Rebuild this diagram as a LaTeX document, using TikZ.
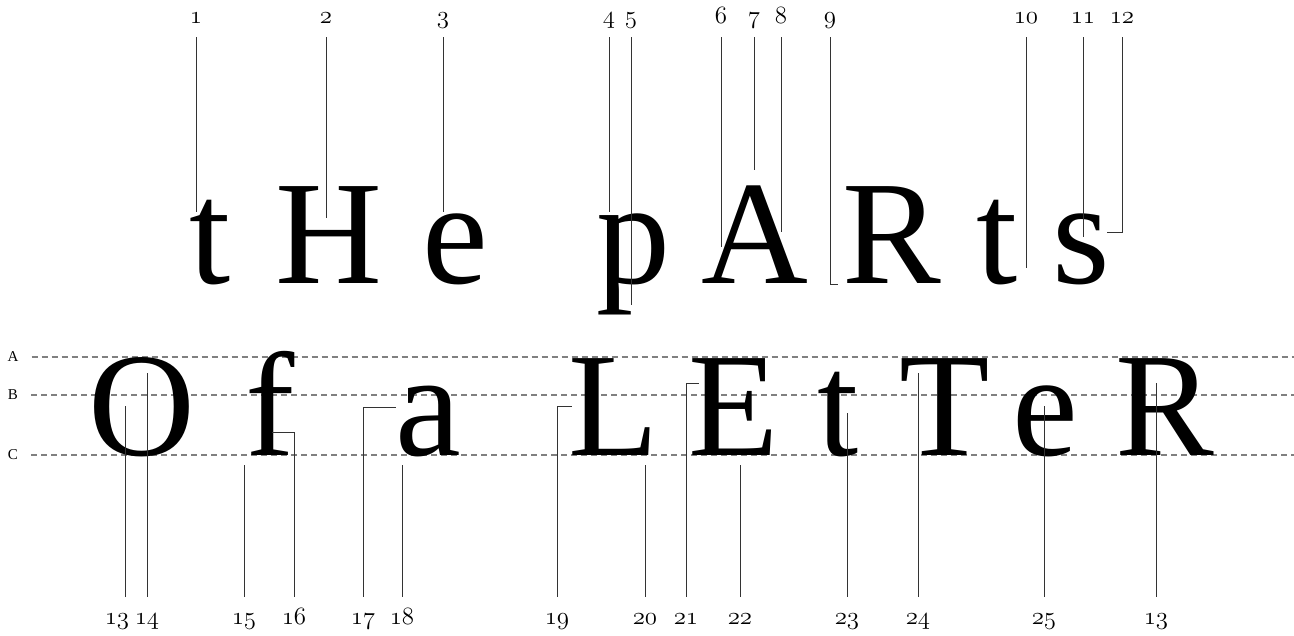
\documentclass[tikz,border=0pt]{standalone}
\usepackage{fontspec}
\setmainfont{Liberation Serif}
\newcommand\osf[1]{{\usefont{OML}{cmm}{m}{it}#1}}
\usetikzlibrary{calc}

\begin{document}
\begin{tikzpicture}[x=1pt, y=-1pt,
  glyph/.style={anchor=base, inner sep=0pt, font=\fontsize{148}{148}\selectfont},
  num/.style={anchor=base, inner sep=0pt, text height=10pt, text depth=5pt,
    font=\fontsize{24.88}{25}\selectfont},
  tag/.style={inner sep=0pt, font=\fontsize{15}{15}\selectfont},
  guide/.style={draw=black!50, line width=1.2pt, dash pattern=on 6pt off 4pt, shorten <=13pt},
  lead/.style={draw=black!80, line width=0.9pt},
  toplead/.style={lead, shorten <=9pt},
  botlead/.style={lead, shorten <=17pt}]
  \useasboundingbox (0,0) rectangle (1294,635);

  % guide lines
  \node[tag] (tagA) at (13,357) {A};
  \node[tag] (tagB) at (13,395) {B};
  \node[tag] (tagC) at (13,455) {C};
  \coordinate (endA) at (1294,357);
  \coordinate (endB) at (1294,395);
  \coordinate (endC) at (1294,455);
  \draw[guide] (tagA.east) -- (endA);
  \draw[guide] (tagB.east) -- (endB);
  \draw[guide] (tagC.east) -- (endC);

  % first line of letters
  \node[glyph] (g1) at (210,283) {t};
  \node[glyph] (g2) at (329,283) {H};
  \node[glyph] (g3) at (455,283) {e};
  \node[glyph] (g4) at (633,283) {p};
  \node[glyph] (g5) at (755,283) {A};
  \node[glyph] (g6) at (892,283) {R};
  \node[glyph] (g7) at (997,283) {t};
  \node[glyph] (g8) at (1081,283) {s};

  % second line of letters
  \node[glyph] (h1) at (142,455) {O};
  \node[glyph] (h2) at (270,455) {f};
  \node[glyph] (h3) at (428,455) {a};
  \node[glyph] (h4) at (614,455) {L};
  \node[glyph] (h5) at (734,455) {E};
  \node[glyph] (h6) at (838,455) {t};
  \node[glyph] (h7) at (945,455) {T};
  \node[glyph] (h8) at (1045,455) {e};
  \node[glyph] (h9) at (1165,455) {R};

  % numbers above
  \foreach \n/\x/\y/\txt in {1/196/212/1, 2/326/218/2, 3/443/212/3, 4/609/212/4,
      5/631/305/5, 6/721/247/6, 7/754/170/7, 8/781/232/8, 10/1026/268/10,
      11/1083/237/11} {
    \node[num] (t\n) at (\x,23) {\osf{\txt}};
    \coordinate (e\n) at (\x,\y);
    \draw[toplead] (t\n.south) -- (e\n);
  }
  \node[num] (t9) at (830,23) {\osf{9}};
  \coordinate (e9) at (838,284);
  \draw[toplead] (t9.south) |- (e9);
  \node[num] (t12) at (1122,23) {\osf{12}};
  \coordinate (e12) at (1107,232);
  \draw[toplead] (t12.south) |- (e12);

  % numbers below
  \foreach \n/\x/\y/\txt in {14/147/373/14,
      15/244/465/15, 18/402/465/18, 20/645/465/20,
      22/740/465/22, 23/847/413/23, 24/918/373/24,
      25/1044/406/25, 26/1156/383/13} {
    \node[num] (b\n) at (\x,624) {\osf{\txt}};
    \coordinate (f\n) at (\x,\y);
    \draw[botlead] (b\n.north) -- (f\n);
  }
  \node[num] (b13) at (117,624) {\osf{13}};
  \coordinate (k13) at (125,597);
  \coordinate (f13) at (125,406);
  \draw[lead] (k13) -- (f13);
  \foreach \n/\x/\hx/\y/\txt in {16/294/272/432/16, 17/363/396/407/17,
      19/557/572/406/19, 21/686/699/383/21} {
    \node[num] (b\n) at (\x,624) {\osf{\txt}};
    \coordinate (f\n) at (\hx,\y);
    \draw[botlead] (b\n.north) |- (f\n);
  }
\end{tikzpicture}
\end{document}
